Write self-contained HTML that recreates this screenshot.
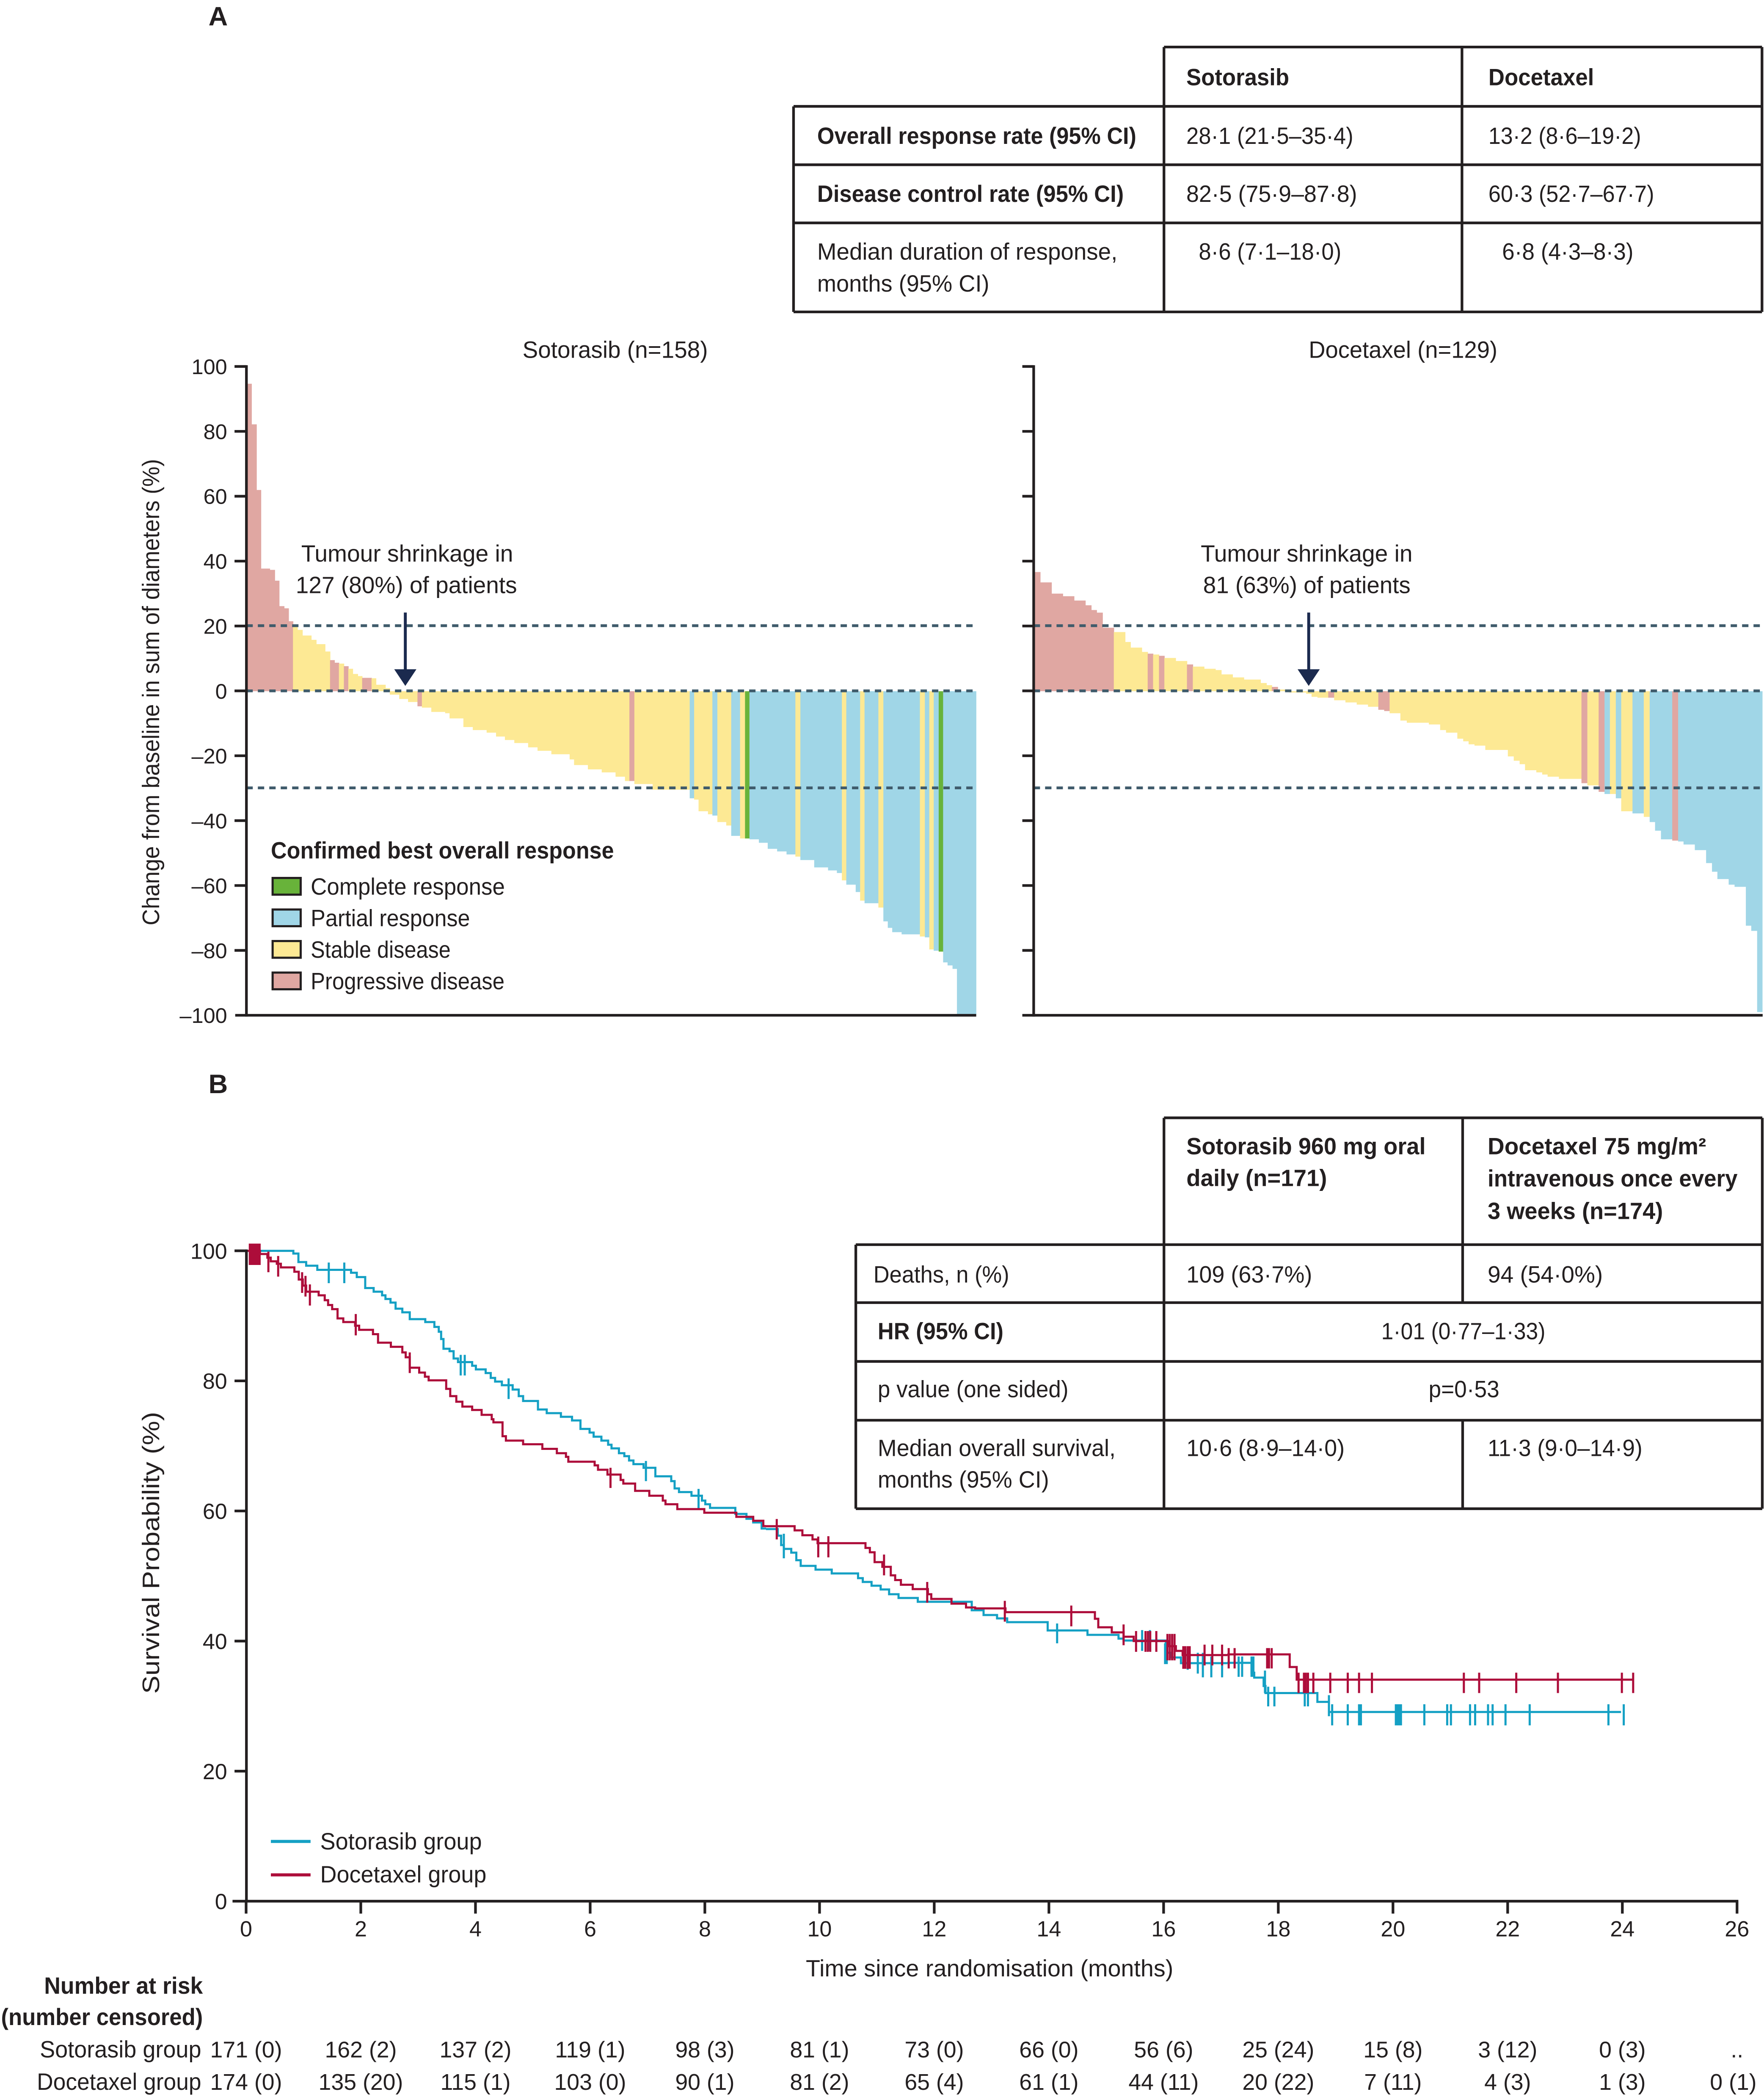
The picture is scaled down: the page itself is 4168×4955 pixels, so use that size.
<!DOCTYPE html>
<html><head><meta charset="utf-8"><style>
html,body{margin:0;padding:0;background:#fff;}
svg{display:block;}
text{font-family:"Liberation Sans",Arial,sans-serif;fill:#231f20;}
.b{font-weight:bold;}
.p{fill:#e0a7a2}.y{fill:#fde994}.bl{fill:#a0d6e7}.g{fill:#68b33a}
.km{fill:none;stroke-width:5;vector-effect:non-scaling-stroke;stroke-linejoin:miter;}
.cb{stroke:#14a0c4}.cr{stroke:#ad0d3a}
</style></head><body>
<svg width="4168" height="4955" viewBox="0 0 4168 4955" xmlns="http://www.w3.org/2000/svg">
<rect x="0" y="0" width="4168" height="4955" fill="#fff"/>

<!-- Left waterfall bars (zoom coords) -->
<g transform="translate(300,820) scale(1.30740,1.02041)">
<rect x="217" y="85" width="8.6" height="712" class="p"/><rect x="225" y="179" width="9.6" height="618" class="p"/><rect x="234" y="331" width="8.6" height="466" class="p"/><rect x="242" y="513" width="16.6" height="284" class="p"/><rect x="258" y="516" width="9.6" height="281" class="p"/><rect x="267" y="541" width="8.6" height="256" class="p"/><rect x="275" y="600" width="9.6" height="197" class="p"/><rect x="284" y="605" width="8.6" height="192" class="p"/><rect x="292" y="635" width="8.6" height="162" class="p"/>
<rect x="300" y="643" width="8.6" height="154" class="y"/><rect x="308" y="655" width="9.6" height="142" class="y"/><rect x="317" y="668" width="16.6" height="129" class="y"/><rect x="333" y="678" width="9.6" height="119" class="y"/><rect x="342" y="688" width="16.6" height="109" class="y"/><rect x="358" y="705" width="9.6" height="92" class="y"/>
<rect x="367" y="725" width="8.6" height="72" class="p"/><rect x="375" y="731" width="8.6" height="66" class="p"/>
<rect x="383" y="733" width="9.6" height="64" class="y"/>
<rect x="392" y="739" width="8.6" height="58" class="p"/>
<rect x="400" y="745" width="8.6" height="52" class="y"/><rect x="408" y="757" width="9.6" height="40" class="y"/><rect x="417" y="762" width="8.6" height="35" class="y"/>
<rect x="425" y="766" width="17.6" height="31" class="p"/>
<rect x="442" y="767" width="8.6" height="30" class="y"/><rect x="450" y="782" width="17.6" height="15" class="y"/><rect x="467" y="790" width="8.6" height="7" class="y"/>
<rect x="475" y="797" width="17.6" height="8" class="y"/><rect x="492" y="797" width="16.6" height="18" class="y"/><rect x="508" y="797" width="17.6" height="25" class="y"/>
<rect x="525" y="797" width="8.6" height="35" class="p"/>
<rect x="533" y="797" width="17.6" height="38" class="y"/><rect x="550" y="797" width="25.6" height="48" class="y"/><rect x="575" y="797" width="8.6" height="51" class="y"/><rect x="583" y="797" width="25.6" height="63" class="y"/><rect x="608" y="797" width="17.6" height="83" class="y"/><rect x="625" y="797" width="25.6" height="90" class="y"/><rect x="650" y="797" width="17.6" height="96" class="y"/><rect x="667" y="797" width="16.6" height="105" class="y"/><rect x="683" y="797" width="17.6" height="113" class="y"/><rect x="700" y="797" width="25.6" height="120" class="y"/><rect x="725" y="797" width="17.6" height="130" class="y"/><rect x="742" y="797" width="25.6" height="138" class="y"/><rect x="767" y="797" width="33.6" height="146" class="y"/><rect x="800" y="797" width="8.6" height="158" class="y"/><rect x="808" y="797" width="25.6" height="171" class="y"/><rect x="833" y="797" width="25.6" height="181" class="y"/><rect x="858" y="797" width="25.6" height="188" class="y"/><rect x="883" y="797" width="17.6" height="198" class="y"/><rect x="900" y="797" width="8.6" height="208" class="y"/>
<rect x="908" y="797" width="9.6" height="208" class="p"/>
<rect x="917" y="797" width="33.6" height="215" class="y"/><rect x="950" y="797" width="67.6" height="228" class="y"/>
<rect x="1017" y="797" width="8.6" height="248" class="bl"/>
<rect x="1025" y="797" width="8.6" height="251" class="y"/><rect x="1033" y="797" width="17.6" height="278" class="y"/><rect x="1050" y="797" width="8.6" height="285" class="y"/>
<rect x="1058" y="797" width="9.6" height="288" class="bl"/>
<rect x="1067" y="797" width="16.6" height="303" class="y"/><rect x="1083" y="797" width="9.6" height="311" class="y"/>
<rect x="1092" y="797" width="16.6" height="335" class="bl"/>
<rect x="1108" y="797" width="9.6" height="341" class="y"/>
<rect x="1117" y="797" width="8.6" height="341" class="g"/>
<rect x="1125" y="797" width="17.6" height="343" class="bl"/><rect x="1142" y="797" width="16.6" height="351" class="bl"/><rect x="1158" y="797" width="17.6" height="365" class="bl"/><rect x="1175" y="797" width="17.6" height="371" class="bl"/><rect x="1192" y="797" width="16.6" height="378" class="bl"/>
<rect x="1208" y="797" width="9.6" height="383" class="y"/>
<rect x="1217" y="797" width="25.6" height="391" class="bl"/><rect x="1242" y="797" width="25.6" height="408" class="bl"/><rect x="1267" y="797" width="16.6" height="415" class="bl"/><rect x="1283" y="797" width="9.6" height="421" class="bl"/>
<rect x="1292" y="797" width="8.6" height="438" class="y"/>
<rect x="1300" y="797" width="17.6" height="448" class="bl"/><rect x="1317" y="797" width="8.6" height="465" class="bl"/>
<rect x="1325" y="797" width="8.6" height="485" class="y"/>
<rect x="1333" y="797" width="25.6" height="491" class="bl"/>
<rect x="1358" y="797" width="9.6" height="501" class="y"/>
<rect x="1367" y="797" width="8.6" height="533" class="bl"/><rect x="1375" y="797" width="8.6" height="548" class="bl"/><rect x="1383" y="797" width="17.6" height="558" class="bl"/><rect x="1400" y="797" width="33.6" height="563" class="bl"/>
<rect x="1433" y="797" width="9.6" height="568" class="y"/>
<rect x="1442" y="797" width="8.6" height="570" class="bl"/>
<rect x="1450" y="797" width="8.6" height="598" class="y"/>
<rect x="1458" y="797" width="9.6" height="601" class="bl"/>
<rect x="1467" y="797" width="8.6" height="603" class="g"/>
<rect x="1475" y="797" width="8.6" height="628" class="bl"/><rect x="1483" y="797" width="9.6" height="635" class="bl"/><rect x="1492" y="797" width="8.6" height="643" class="bl"/><rect x="1500" y="797" width="35" height="748" class="bl"/>
</g>

<!-- Right waterfall bars (zoom coords) -->
<g transform="translate(2350,820) scale(1.15944,1.02041)">
<rect x="82" y="521" width="11.6" height="276" class="p"/><rect x="93" y="545" width="23.6" height="252" class="p"/><rect x="116" y="571" width="23.6" height="226" class="p"/><rect x="139" y="577" width="23.6" height="220" class="p"/><rect x="162" y="587" width="23.6" height="210" class="p"/><rect x="185" y="598" width="12.6" height="199" class="p"/><rect x="197" y="609" width="11.6" height="188" class="p"/><rect x="208" y="615" width="12.6" height="182" class="p"/><rect x="220" y="650" width="23.6" height="147" class="p"/>
<rect x="243" y="660" width="23.6" height="137" class="y"/><rect x="266" y="683" width="11.6" height="114" class="y"/><rect x="277" y="696" width="23.6" height="101" class="y"/><rect x="300" y="706" width="12.6" height="91" class="y"/>
<rect x="312" y="710" width="11.6" height="87" class="p"/>
<rect x="323" y="712" width="12.6" height="85" class="y"/>
<rect x="335" y="715" width="11.6" height="82" class="p"/>
<rect x="346" y="720" width="23.6" height="77" class="y"/><rect x="369" y="727" width="23.6" height="70" class="y"/>
<rect x="392" y="735" width="12.6" height="62" class="p"/>
<rect x="404" y="740" width="23.6" height="57" class="y"/><rect x="427" y="745" width="23.6" height="52" class="y"/><rect x="450" y="748" width="12.6" height="49" class="y"/><rect x="462" y="758" width="23.6" height="39" class="y"/><rect x="485" y="765" width="23.6" height="32" class="y"/><rect x="508" y="770" width="34.6" height="27" class="y"/><rect x="542" y="778" width="12.6" height="19" class="y"/><rect x="554" y="783" width="11.6" height="14" class="y"/>
<rect x="565" y="787" width="12.6" height="10" class="p"/>
<rect x="577" y="793" width="23.6" height="4" class="y"/>
<rect x="600" y="797" width="35.6" height="3" class="y"/><rect x="635" y="797" width="11.6" height="6" class="y"/><rect x="646" y="797" width="12.6" height="13" class="y"/><rect x="658" y="797" width="22.6" height="15" class="y"/>
<rect x="680" y="797" width="12.6" height="15" class="p"/>
<rect x="692" y="797" width="23.6" height="21" class="y"/><rect x="715" y="797" width="23.6" height="26" class="y"/><rect x="738" y="797" width="23.6" height="31" class="y"/><rect x="761" y="797" width="21.6" height="36" class="y"/>
<rect x="782" y="797" width="12.6" height="43" class="p"/><rect x="794" y="797" width="11.6" height="46" class="p"/>
<rect x="805" y="797" width="22.6" height="51" class="y"/><rect x="827" y="797" width="13.6" height="68" class="y"/><rect x="840" y="797" width="45.6" height="73" class="y"/><rect x="885" y="797" width="23.6" height="77" class="y"/><rect x="908" y="797" width="12.6" height="90" class="y"/><rect x="920" y="797" width="23.6" height="96" class="y"/><rect x="943" y="797" width="12.6" height="110" class="y"/><rect x="955" y="797" width="11.6" height="116" class="y"/><rect x="966" y="797" width="12.6" height="123" class="y"/><rect x="978" y="797" width="22.6" height="126" class="y"/><rect x="1000" y="797" width="46.6" height="136" class="y"/><rect x="1046" y="797" width="12.6" height="151" class="y"/><rect x="1058" y="797" width="12.6" height="161" class="y"/><rect x="1070" y="797" width="11.6" height="169" class="y"/><rect x="1081" y="797" width="23.6" height="183" class="y"/><rect x="1104" y="797" width="12.6" height="188" class="y"/><rect x="1116" y="797" width="11.6" height="193" class="y"/><rect x="1127" y="797" width="23.6" height="198" class="y"/><rect x="1150" y="797" width="46.6" height="203" class="y"/>
<rect x="1196" y="797" width="12.6" height="213" class="p"/>
<rect x="1208" y="797" width="23.6" height="218" class="y"/>
<rect x="1231" y="797" width="12.6" height="233" class="p"/>
<rect x="1243" y="797" width="11.6" height="238" class="bl"/>
<rect x="1254" y="797" width="12.6" height="238" class="y"/>
<rect x="1266" y="797" width="11.6" height="248" class="bl"/>
<rect x="1277" y="797" width="23.6" height="278" class="y"/>
<rect x="1300" y="797" width="23.6" height="283" class="bl"/>
<rect x="1323" y="797" width="12.6" height="291" class="y"/>
<rect x="1335" y="797" width="11.6" height="303" class="bl"/><rect x="1346" y="797" width="12.6" height="323" class="bl"/><rect x="1358" y="797" width="23.6" height="343" class="bl"/>
<rect x="1381" y="797" width="12.6" height="346" class="p"/>
<rect x="1393" y="797" width="11.6" height="348" class="bl"/><rect x="1404" y="797" width="23.6" height="355" class="bl"/><rect x="1427" y="797" width="23.6" height="368" class="bl"/><rect x="1450" y="797" width="12.6" height="398" class="bl"/><rect x="1462" y="797" width="11.6" height="418" class="bl"/><rect x="1473" y="797" width="23.6" height="435" class="bl"/><rect x="1496" y="797" width="12.6" height="448" class="bl"/><rect x="1508" y="797" width="23.6" height="453" class="bl"/><rect x="1531" y="797" width="11.6" height="543" class="bl"/><rect x="1542" y="797" width="12.6" height="555" class="bl"/><rect x="1554" y="797" width="11" height="743" class="bl"/>
</g>

<!-- KM curves part 1 -->
<g transform="translate(560,2900) scale(0.79719,0.57398)">
<path class="km cb" d="M28,97H167V108H182V143H205V158H238V175H338V187H355V205H380V250H405V265H430V280H440V295H455V310H470V335H490V350H512V378H558V390H585V410H598V430H605V460H612V500H630V510H642V540H655V555H697V570H708V585H737V600H752V620H765V635H785V650H817V668H835V695H848V715H892V750H918V765H960V780H993V795H1018V830H1045V845H1057V862H1080V878H1100V895H1110V910H1132V930H1148V942H1162V960H1175V975H1205V990H1240V1025H1287V1045H1297V1075H1310V1090H1347V1105H1378V1125H1388V1140H1402V1155H1477V1180H1510V1200H1530V1215H1555V1240H1568"/>
<path class="km cb" d="M272,145V230M318,145V230M663,525V610M675,525V610M805,622V707M1212,962V1045M1368,1077V1162"/>
<path class="km cr" d="M28,97H68V110H90V125H100V140H118V150H130V165H170V183H183V215H195V240H205V265H242V280H260V300H270V320H282V337H298V375H315V390H350V405H362V422H403V440H418V475H456V492H490V515H500V535H512V578H540V598H557V615H568V630H620V665H632V695H650V718H668V738H697V752H725V772H755V790H760V803H787V860H797V878H848V893H905V912H948V930H975V945H982V965H1060V980H1070V998H1098V1018H1137V1040H1145V1055H1180V1085H1222V1105H1262V1125H1270V1140H1305V1160H1385V1175H1480V1192H1530V1208H1560V1230H1568"/>
<path class="km cr" d="M38,67V155M44,67V155M50,67V155M56,67V155M62,67V155M67,67V155M93,100V185M122,118V203M193,185V270M203,200V285M216,235V322M352,357V445M512,515V600M1107,990V1073"/>
</g>
<!-- KM curves part 2 -->
<g transform="translate(1750,3450) scale(0.79719,0.44643)">
<path class="km cb" d="M75,365H110V400H120V450H128V470H150V490H165V530H178V560H222V580H270V600H348V625H362V645H388V665H415V685H440V710H468V730H525V750H685V795H720V820H760V838H790V858H910V902H1028V925H1120V945H1135V955H1260V1020H1275V1045H1305V1075H1443"/>
<path class="km cb" d="M128,390V520M938,865V970M1190,900V1010M1213,900V1010M1258,970V1080M1263,970V1080M1325,1000V1110M1355,1020V1130M1370,1020V1150M1395,1040V1150M1427,1040V1150"/>
<path class="km cr" d="M75,350H160V372H183V398H213V420H228V440H370V465H383V488H397V540H420V565H445V610H458V635H475V660H510V683H555V710H565V735H625V760H668V780H695V785H785V805H1050V840H1060V885H1100V912H1135V935H1165V958H1270V985H1290V1010H1310V1032H1443"/>
<path class="km cr" d="M107,312V420M230,405V515M260,403V515M425,500V610M553,645V755M783,745V855M980,770V880M1135,870V980M1172,905V1015M1200,905V1015M1207,905V1015M1214,905V1015M1232,905V1015M1265,920V1060M1272,920V1060M1279,920V1060M1286,920V1060M1312,985V1105M1318,985V1105M1325,985V1105M1331,985V1105M1375,977V1087M1398,977V1087M1427,977V1087"/>
</g>
<!-- KM curves part 3 -->
<g transform="translate(2900,3700) scale(0.635,0.332)">
<path class="km cb" d="M0,690H90V760H100V795H135V855H142V905H335V968H378V1040H1465"/>
<path class="km cb" d="M42,645V790M55,645V790M90,645V790M97,645V790M140,745V905M152,860V1000M175,860V1000M288,905V1000M300,905V1000M378,920V1070M390,985V1135M448,985V1135M490,985V1135M497,985V1135M627,985V1135M634,985V1135M641,985V1135M646,985V1135M733,985V1135M818,985V1135M832,985V1135M903,985V1135M922,985V1135M970,985V1135M987,985V1135M1035,985V1135M1125,985V1135M1418,985V1135M1475,985V1135"/>
<path class="km cr" d="M0,630H232V720H258V810H1510"/>
<path class="km cr" d="M5,585V730M27,585V730M148,585V730M155,585V730M165,585V730M265,760V905M285,760V905M292,760V905M300,760V905M320,760V905M383,760V905M448,760V905M490,760V905M538,760V905M880,760V905M937,760V905M1075,760V905M1230,760V905M1468,760V905M1510,760V905"/>
</g>

<!-- Everything else in display coordinates -->
<g transform="scale(3.15758)">
<text x="156" y="19" class="b" font-size="20">A</text>
<text x="156" y="818" class="b" font-size="20">B</text>

<!-- Top table -->
<g stroke="#231f20" stroke-width="2" fill="none">
<path d="M871,35.2H1318.5M593.8,79.6H1318.5M593.8,123.3H1318.5M593.8,166.8H1318.5M593.8,233.4H1318.5M593.8,79.6V233.4M871,35.2V233.4M1094,35.2V233.4M1318.5,35.2V233.4"/>
</g>
<g font-size="17.5">
<text x="887.7" y="63.8" class="b" textLength="77" lengthAdjust="spacingAndGlyphs">Sotorasib</text>
<text x="1113.8" y="63.8" class="b" textLength="79" lengthAdjust="spacingAndGlyphs">Docetaxel</text>
<text x="611.5" y="107.7" class="b" textLength="238.8" lengthAdjust="spacingAndGlyphs">Overall response rate (95% CI)</text>
<text x="887.7" y="107.7" textLength="125" lengthAdjust="spacingAndGlyphs">28·1 (21·5–35·4)</text>
<text x="1113.8" y="107.7" textLength="114.2" lengthAdjust="spacingAndGlyphs">13·2 (8·6–19·2)</text>
<text x="611.5" y="151" class="b" textLength="229.4" lengthAdjust="spacingAndGlyphs">Disease control rate (95% CI)</text>
<text x="887.7" y="151" textLength="127.8" lengthAdjust="spacingAndGlyphs">82·5 (75·9–87·8)</text>
<text x="1113.8" y="151" textLength="124" lengthAdjust="spacingAndGlyphs">60·3 (52·7–67·7)</text>
<text x="611.5" y="194.3" textLength="224.7" lengthAdjust="spacingAndGlyphs">Median duration of response,</text>
<text x="611.5" y="218.2" textLength="128.8" lengthAdjust="spacingAndGlyphs">months (95% CI)</text>
<text x="897" y="194.3" textLength="106.7" lengthAdjust="spacingAndGlyphs">8·6 (7·1–18·0)</text>
<text x="1124" y="194.3" textLength="98.3" lengthAdjust="spacingAndGlyphs">6·8 (4·3–8·3)</text>
</g>

<!-- Waterfall titles -->
<text x="391" y="267.8" font-size="17.5" textLength="138.7" lengthAdjust="spacingAndGlyphs">Sotorasib (n=158)</text>
<text x="979.3" y="267.8" font-size="17.5" textLength="141.2" lengthAdjust="spacingAndGlyphs">Docetaxel (n=129)</text>

<!-- Dashed reference lines -->
<g stroke="#3f5b6b" stroke-width="2.1" stroke-dasharray="4.75 3.8" fill="none">
<path d="M184.4,468.2H730.5M184.4,517H730.5M184.4,589.6H730.5"/>
<path d="M773.5,468.2H1319M773.5,517H1319M773.5,589.6H1319"/>
</g>

<!-- Waterfall axes -->
<g stroke="#231f20" stroke-width="2" fill="none">
<path d="M184.4,273.3V760.8M176,759.75H730.5"/>
<path d="M175.5,274.25H184.4M175.5,322.8H184.4M175.5,371.35H184.4M175.5,419.9H184.4M175.5,468.45H184.4M175.5,517H184.4M175.5,565.55H184.4M175.5,614.1H184.4M175.5,662.65H184.4M175.5,711.2H184.4"/>
<path d="M773.5,273.3V760.8M765,759.75H1319"/>
<path d="M765,274.25H773.5M765,322.8H773.5M765,371.35H773.5M765,419.9H773.5M765,468.45H773.5M765,517H773.5M765,565.55H773.5M765,614.1H773.5M765,662.65H773.5M765,711.2H773.5"/>
</g>
<g font-size="16" text-anchor="end">
<text x="170" y="280">100</text>
<text x="170" y="328.6">80</text>
<text x="170" y="377.1">60</text>
<text x="170" y="425.7">40</text>
<text x="170" y="474.2">20</text>
<text x="170" y="522.8">0</text>
<text x="170" y="571.3">–20</text>
<text x="170" y="619.9">–40</text>
<text x="170" y="668.4">–60</text>
<text x="170" y="717">–80</text>
<text x="170" y="765.5">–100</text>
</g>
<text transform="translate(119,518) rotate(-90)" text-anchor="middle" font-size="18" textLength="349" lengthAdjust="spacingAndGlyphs">Change from baseline in sum of diameters (%)</text>

<!-- Annotations -->
<g font-size="17.5">
<text x="225.4" y="420.3" textLength="158.6" lengthAdjust="spacingAndGlyphs">Tumour shrinkage in</text>
<text x="221.3" y="443.9" textLength="165.6" lengthAdjust="spacingAndGlyphs">127 (80%) of patients</text>
<text x="898.5" y="420.3" textLength="158.5" lengthAdjust="spacingAndGlyphs">Tumour shrinkage in</text>
<text x="900.3" y="443.9" textLength="155.2" lengthAdjust="spacingAndGlyphs">81 (63%) of patients</text>
</g>
<g stroke="#1b2a4e" stroke-width="2.2"><path d="M303.3,458.4V503M979.3,458.4V503"/></g>
<polygon points="295,500.8 311.6,500.8 303.3,513.3" fill="#1b2a4e"/>
<polygon points="971,500.8 987.6,500.8 979.3,513.3" fill="#1b2a4e"/>

<!-- Waterfall legend -->
<text x="202.7" y="642.5" class="b" font-size="17.5" textLength="256.7" lengthAdjust="spacingAndGlyphs">Confirmed best overall response</text>
<g stroke="#231f20" stroke-width="1.6">
<rect x="204" y="657" width="21" height="12.5" fill="#68b33a"/>
<rect x="204" y="680.6" width="21" height="12.5" fill="#a0d6e7"/>
<rect x="204" y="704.2" width="21" height="12.5" fill="#fde994"/>
<rect x="204" y="727.8" width="21" height="12.5" fill="#e0a7a2"/>
</g>
<g font-size="17.5">
<text x="232.5" y="669.5" textLength="145.3" lengthAdjust="spacingAndGlyphs">Complete response</text>
<text x="232.5" y="693.1" textLength="119.2" lengthAdjust="spacingAndGlyphs">Partial response</text>
<text x="232.5" y="716.7" textLength="104.7" lengthAdjust="spacingAndGlyphs">Stable disease</text>
<text x="232.5" y="740.3" textLength="145" lengthAdjust="spacingAndGlyphs">Progressive disease</text>
</g>

<!-- Bottom table -->
<g stroke="#231f20" stroke-width="2" fill="none">
<path d="M871,836.5H1318.7M640.4,931.4H1318.7M640.4,974.8H1318.7M640.4,1018.8H1318.7M640.4,1062.8H1318.7M640.4,1129H1318.7"/>
<path d="M640.4,931.4V1129M871,836.5V1129M1094.5,836.5V974.8M1094.5,1062.8V1129M1318.7,836.5V1129"/>
</g>
<g font-size="17.5">
<text x="887.8" y="863.8" class="b" textLength="179" lengthAdjust="spacingAndGlyphs">Sotorasib 960 mg oral</text>
<text x="887.8" y="887.6" class="b" textLength="105.2" lengthAdjust="spacingAndGlyphs">daily (n=171)</text>
<text x="1113.2" y="863.8" class="b" textLength="163.5" lengthAdjust="spacingAndGlyphs">Docetaxel 75 mg/m²</text>
<text x="1113.2" y="887.9" class="b" textLength="187" lengthAdjust="spacingAndGlyphs">intravenous once every</text>
<text x="1113.2" y="912.3" class="b" textLength="131.2" lengthAdjust="spacingAndGlyphs">3 weeks (n=174)</text>
<text x="653.6" y="959.7" textLength="101.6" lengthAdjust="spacingAndGlyphs">Deaths, n (%)</text>
<text x="887.8" y="959.7" textLength="94.1" lengthAdjust="spacingAndGlyphs">109 (63·7%)</text>
<text x="1113.2" y="959.7" textLength="86.2" lengthAdjust="spacingAndGlyphs">94 (54·0%)</text>
<text x="656.8" y="1002.2" class="b" textLength="94.1" lengthAdjust="spacingAndGlyphs">HR (95% CI)</text>
<text x="1033.6" y="1002.2" textLength="122.8" lengthAdjust="spacingAndGlyphs">1·01 (0·77–1·33)</text>
<text x="656.8" y="1045.6" textLength="142.7" lengthAdjust="spacingAndGlyphs">p value (one sided)</text>
<text x="1069" y="1045.6" textLength="53" lengthAdjust="spacingAndGlyphs">p=0·53</text>
<text x="656.8" y="1089.6" textLength="178" lengthAdjust="spacingAndGlyphs">Median overall survival,</text>
<text x="656.8" y="1113.2" textLength="128.2" lengthAdjust="spacingAndGlyphs">months (95% CI)</text>
<text x="887.8" y="1089.6" textLength="118.4" lengthAdjust="spacingAndGlyphs">10·6 (8·9–14·0)</text>
<text x="1113.2" y="1089.6" textLength="115.8" lengthAdjust="spacingAndGlyphs">11·3 (9·0–14·9)</text>
</g>

<!-- KM axes -->
<g stroke="#231f20" stroke-width="2" fill="none">
<path d="M184.4,935V1423.7M174,1422.7H1300.8"/>
<path d="M175.5,936H184.4M175.5,1033.35H184.4M175.5,1130.7H184.4M175.5,1228.05H184.4M175.5,1325.4H184.4"/>
<path d="M184.16,1422.7V1432M269.98,1422.7V1432M355.8,1422.7V1432M441.62,1422.7V1432M527.44,1422.7V1432M613.26,1422.7V1432M699.08,1422.7V1432M784.9,1422.7V1432M870.72,1422.7V1432M956.54,1422.7V1432M1042.36,1422.7V1432M1128.18,1422.7V1432M1214,1422.7V1432M1299.82,1422.7V1432"/>
</g>
<g font-size="16.5" text-anchor="end">
<text x="170" y="942">100</text>
<text x="170" y="1039.3">80</text>
<text x="170" y="1136.7">60</text>
<text x="170" y="1234">40</text>
<text x="170" y="1331.4">20</text>
<text x="170" y="1428.7">0</text>
</g>
<g font-size="16.5" text-anchor="middle">
<text x="184.16" y="1449">0</text>
<text x="269.98" y="1449">2</text>
<text x="355.8" y="1449">4</text>
<text x="441.62" y="1449">6</text>
<text x="527.44" y="1449">8</text>
<text x="613.26" y="1449">10</text>
<text x="699.08" y="1449">12</text>
<text x="784.9" y="1449">14</text>
<text x="870.72" y="1449">16</text>
<text x="956.54" y="1449">18</text>
<text x="1042.36" y="1449">20</text>
<text x="1128.18" y="1449">22</text>
<text x="1214" y="1449">24</text>
<text x="1299.82" y="1449">26</text>
</g>
<text x="603" y="1479" font-size="17.5" textLength="275" lengthAdjust="spacingAndGlyphs">Time since randomisation (months)</text>
<text transform="translate(119,1162) rotate(-90)" text-anchor="middle" font-size="18" textLength="211" lengthAdjust="spacingAndGlyphs">Survival Probability (%)</text>

<!-- KM legend -->
<path d="M202.7,1378H232.4" stroke="#14a0c4" stroke-width="2.3"/>
<path d="M202.7,1403H232.4" stroke="#ad0d3a" stroke-width="2.3"/>
<text x="239.6" y="1384" font-size="17.5" textLength="121" lengthAdjust="spacingAndGlyphs">Sotorasib group</text>
<text x="239.6" y="1408.6" font-size="17.5" textLength="124.4" lengthAdjust="spacingAndGlyphs">Docetaxel group</text>

<!-- Number at risk -->
<text x="151.8" y="1492" class="b" font-size="17.5" text-anchor="end" textLength="118.8" lengthAdjust="spacingAndGlyphs">Number at risk</text>
<text x="151.8" y="1515.4" class="b" font-size="17.5" text-anchor="end" textLength="151" lengthAdjust="spacingAndGlyphs">(number censored)</text>
<text x="150.6" y="1539.6" font-size="17.5" text-anchor="end" textLength="120.8" lengthAdjust="spacingAndGlyphs">Sotorasib group</text>
<text x="150.6" y="1563.8" font-size="17.5" text-anchor="end" textLength="123" lengthAdjust="spacingAndGlyphs">Docetaxel group</text>
<g font-size="17" text-anchor="middle">
<text x="184.16" y="1539.6">171 (0)</text>
<text x="269.98" y="1539.6">162 (2)</text>
<text x="355.8" y="1539.6">137 (2)</text>
<text x="441.62" y="1539.6">119 (1)</text>
<text x="527.44" y="1539.6">98 (3)</text>
<text x="613.26" y="1539.6">81 (1)</text>
<text x="699.08" y="1539.6">73 (0)</text>
<text x="784.9" y="1539.6">66 (0)</text>
<text x="870.72" y="1539.6">56 (6)</text>
<text x="956.54" y="1539.6">25 (24)</text>
<text x="1042.36" y="1539.6">15 (8)</text>
<text x="1128.18" y="1539.6">3 (12)</text>
<text x="1214" y="1539.6">0 (3)</text>
<text x="1299.82" y="1539.6">..</text>
<text x="184.16" y="1563.8">174 (0)</text>
<text x="269.98" y="1563.8">135 (20)</text>
<text x="355.8" y="1563.8">115 (1)</text>
<text x="441.62" y="1563.8">103 (0)</text>
<text x="527.44" y="1563.8">90 (1)</text>
<text x="613.26" y="1563.8">81 (2)</text>
<text x="699.08" y="1563.8">65 (4)</text>
<text x="784.9" y="1563.8">61 (1)</text>
<text x="870.72" y="1563.8">44 (11)</text>
<text x="956.54" y="1563.8">20 (22)</text>
<text x="1042.36" y="1563.8">7 (11)</text>
<text x="1128.18" y="1563.8">4 (3)</text>
<text x="1214" y="1563.8">1 (3)</text>
<text x="1297" y="1563.8">0 (1)</text>
</g>
</g>
</svg>
</body></html>
